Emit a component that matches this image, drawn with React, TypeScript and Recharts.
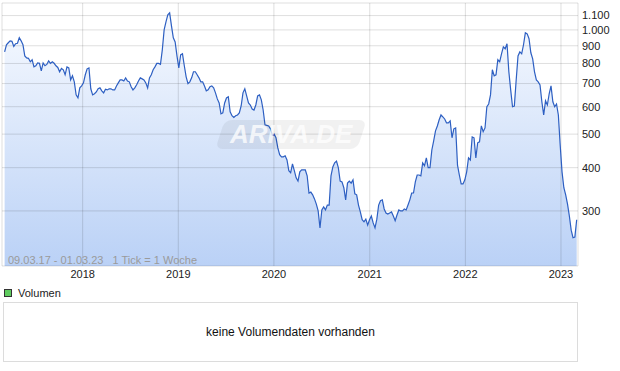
import React from 'react';
import {
  ComposedChart,
  Area,
  Line,
  XAxis,
  YAxis,
  ReferenceLine,
  ReferenceArea
} from 'recharts';

// Weekly closes (1 Tick = 1 Woche)
const START_DATE = '2017-03-09';
const STEP_DAYS = 7;

const prices = [
  864, 906, 918, 930, 927, 896, 912, 915, 949, 930,
  906, 841, 830, 828, 809, 820, 782, 788, 803, 801,
  762, 803, 788, 795, 814, 800, 809, 801, 788, 779,
  757, 774, 767, 742, 782, 777, 717, 737, 708, 649,
  636, 680, 689, 703, 742, 772, 777, 676, 649, 654,
  662, 676, 680, 667, 658, 674, 671, 676, 676, 671,
  671, 689, 703, 717, 717, 712, 727, 712, 708, 685,
  671, 680, 694, 712, 727, 722, 717, 703, 680, 727,
  742, 767, 782, 800, 800, 795, 876, 1000, 1055, 1106,
  1120, 1027, 949, 923, 841, 777, 847, 853, 788, 732,
  700, 708, 727, 757, 757, 742, 727, 708, 708, 689,
  667, 671, 685, 689, 680, 658, 632, 615, 572, 576,
  615, 636, 641, 580, 565, 559, 565, 568, 576, 603,
  658, 676, 645, 615, 607, 591, 587, 607, 645, 649,
  628, 587, 532, 530, 528, 518, 497, 500, 488, 456,
  436, 430, 430, 433, 421, 392, 387, 410, 392, 374,
  366, 389, 394, 394, 394, 379, 338, 340, 334, 325,
  314, 300, 268, 302, 308, 302, 312, 312, 379, 402,
  413, 418, 400, 366, 364, 350, 323, 361, 366, 361,
  369, 336, 334, 312, 298, 283, 279, 284, 273, 283,
  290, 277, 268, 284, 312, 321, 323, 304, 296, 294,
  296, 298, 290, 281, 292, 302, 300, 300, 304, 302,
  312, 323, 338, 338, 364, 381, 381, 379, 413, 405,
  427, 400, 400, 450, 478, 511, 528, 550, 568, 561,
  553, 539, 539, 546, 488, 518, 521, 407, 381, 359,
  359, 369, 389, 427, 421, 491, 488, 427, 472, 475,
  528, 508, 521, 600, 611, 649, 767, 737, 742, 820,
  809, 853, 893, 882, 912, 757, 671, 600, 603, 717,
  841, 864, 853, 906, 981, 974, 943, 859, 825, 757,
  717, 708, 694, 620, 568, 624, 607, 654, 689, 620,
  600, 611, 568, 465, 389, 350, 334, 314, 290, 264,
  251, 252, 283
];

const years = [2018, 2019, 2020, 2021, 2022, 2023];
const priceTicks = [300, 400, 500, 600, 700, 800, 900, 1000, 1100];
const priceDomain = [208, 1196];
const dayDomain = [-10, 2189];

const DAY_MS = 86400000;
const startMs = Date.parse(START_DATE);

const data = prices.map((price, i) => ({ day: i * STEP_DAYS, price }));
const yearTicks = years.map((y) => Math.round((Date.UTC(y, 0, 1) - startMs) / DAY_MS));

const GRID = 'rgba(0,0,0,0.13)';
const FONT = '"Liberation Sans", Arial, sans-serif';

// 1100 -> "1.100"
const formatPrice = (v: number) =>
  v >= 1000 ? `${Math.floor(v / 1000)}.${String(v % 1000).padStart(3, '0')}` : String(v);

const formatYear = (d: number) => {
  const i = yearTicks.indexOf(d);
  return i >= 0 ? String(years[i]) : '';
};

export default function App() {
  return (
    <div
      style={{
        position: 'absolute',
        left: 0,
        top: 0,
        width: 620,
        height: 371,
        background: '#fff',
        fontFamily: FONT
      }}
    >
      <ComposedChart
        width={620}
        height={285}
        data={data}
        margin={{ top: 3, right: 0, bottom: 0, left: 2 }}
      >
        <defs>
          <linearGradient id="areaFill" x1="0" y1="0" x2="0" y2="1">
            <stop offset="0%" stopColor="#f7faff" />
            <stop offset="100%" stopColor="#bad1f6" />
          </linearGradient>
        </defs>
        <XAxis
          dataKey="day"
          type="number"
          domain={dayDomain}
          ticks={yearTicks}
          tickFormatter={formatYear}
          interval={0}
          allowDataOverflow
          axisLine={false}
          tickLine={false}
          tickSize={0}
          tickMargin={4}
          height={19}
          tick={{ fill: '#222', fontSize: 11, fontFamily: FONT }}
        />
        <YAxis
          orientation="right"
          scale="log"
          domain={priceDomain}
          ticks={priceTicks}
          tickFormatter={formatPrice}
          interval={0}
          allowDataOverflow
          axisLine={false}
          tickLine={false}
          tickSize={0}
          tickMargin={4}
          width={42}
          tick={{ fill: '#222', fontSize: 11, fontFamily: FONT }}
        />
        <Area
          type="linear"
          dataKey="price"
          stroke="none"
          fill="url(#areaFill)"
          fillOpacity={1}
          baseValue="dataMin"
          isAnimationActive={false}
        />
        {priceTicks.map((p) => (
          <ReferenceLine key={`h-${p}`} y={p} stroke={GRID} strokeWidth={1} />
        ))}
        {yearTicks.map((d) => (
          <ReferenceLine key={`v-${d}`} x={d} stroke={GRID} strokeWidth={1} />
        ))}
        <ReferenceArea
          x1={dayDomain[0]}
          x2={dayDomain[1]}
          y1={priceDomain[0]}
          y2={priceDomain[1]}
          fill="none"
          fillOpacity={0}
          stroke={GRID}
          strokeWidth={1}
        />
        <Line
          type="linear"
          dataKey="price"
          stroke="#2d5fc2"
          strokeWidth={1.2}
          dot={false}
          activeDot={false}
          isAnimationActive={false}
        />
      </ComposedChart>

      {/* watermark */}
      <div
        style={{
          position: 'absolute',
          left: 220,
          top: 120,
          width: 142,
          height: 29,
          background: 'rgba(0,0,0,0.055)',
          borderRadius: 7,
          transform: 'skewX(-18deg)',
          display: 'flex',
          alignItems: 'center',
          justifyContent: 'center',
          color: 'rgba(255,255,255,0.75)',
          fontSize: 26,
          fontWeight: 'bold',
          fontStyle: 'italic',
          lineHeight: '29px'
        }}
      >
        <span style={{ transform: 'skewX(18deg)' }}>ARIVA.DE</span>
      </div>

      <div
        style={{
          position: 'absolute',
          left: 8,
          top: 254,
          fontSize: 11,
          color: '#9a9a9a',
          whiteSpace: 'pre',
          lineHeight: '12px'
        }}
      >
        {'09.03.17 - 01.03.23   1 Tick = 1 Woche'}
      </div>

      {/* volume panel */}
      <div
        style={{
          position: 'absolute',
          left: 4,
          top: 289,
          width: 6,
          height: 6,
          background: '#5fcc5f',
          border: '1px solid #333'
        }}
      />
      <div
        style={{
          position: 'absolute',
          left: 18,
          top: 287,
          fontSize: 11,
          color: '#222',
          lineHeight: '12px'
        }}
      >
        Volumen
      </div>
      <div
        style={{
          position: 'absolute',
          left: 3,
          top: 302,
          width: 573,
          height: 58,
          border: '1px solid #dcdcdc',
          display: 'flex',
          alignItems: 'center',
          justifyContent: 'center',
          fontSize: 12,
          color: '#111'
        }}
      >
        keine Volumendaten vorhanden
      </div>
    </div>
  );
}
